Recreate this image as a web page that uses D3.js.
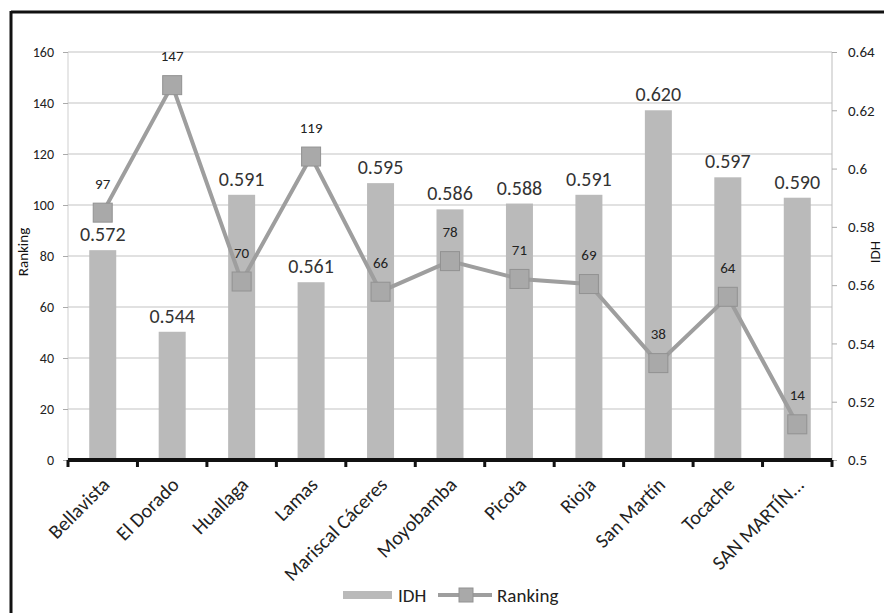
<!DOCTYPE html>
<html><head><meta charset="utf-8">
<script src="https://cdn.jsdelivr.net/npm/d3@7"></script>
<style>body{margin:0;background:#fff}svg{display:block}</style>
</head><body><svg id="c" width="884" height="613"></svg>
<script>
const categories = ["Bellavista","El Dorado","Huallaga","Lamas","Mariscal Cáceres","Moyobamba","Picota","Rioja","San Martín","Tocache","SAN MARTÍN..."];
const idh = [0.572,0.544,0.591,0.561,0.595,0.586,0.588,0.591,0.620,0.597,0.590];
const ranking = [97,147,70,119,66,78,71,69,38,64,14];
const leftTicks = [0,20,40,60,80,100,120,140,160];
const rightTicks = [0.5,0.52,0.54,0.56,0.58,0.6,0.62,0.64];
const rightTickLabels = ["0.5","0.52","0.54","0.56","0.58","0.6","0.62","0.64"];

const svg = d3.select("#c");
const font = "Carlito, Calibri, Lato, 'Open Sans', sans-serif";
const L = 68, R = 832, T = 52, B = 460;

const x = d3.scaleBand().domain(categories).range([L, R]);
const yL = d3.scaleLinear().domain([0,160]).range([B, T]);
const yR = d3.scaleLinear().domain([0.5,0.64]).range([B, T]);

// frame
svg.append("line").attr("x1",11).attr("x2",884).attr("y1",12).attr("y2",12).attr("stroke","#111").attr("stroke-width",3);
svg.append("line").attr("x1",11).attr("x2",11).attr("y1",11).attr("y2",613).attr("stroke","#111").attr("stroke-width",3);

// gridlines
svg.append("g").selectAll("line").data(leftTicks.slice(1)).join("line")
  .attr("x1",L).attr("x2",R).attr("y1",d=>yL(d)).attr("y2",d=>yL(d))
  .attr("stroke","#c4c4c4").attr("stroke-width",1.2);
svg.append("line").attr("x1",L).attr("x2",L).attr("y1",T).attr("y2",B).attr("stroke","#cfcfcf");
svg.append("line").attr("x1",R).attr("x2",R).attr("y1",T).attr("y2",B).attr("stroke","#bdbdbd");

// left axis
const gl = svg.append("g").attr("transform",`translate(${L},0)`)
  .call(d3.axisLeft(yL).tickValues(leftTicks).tickSize(5).tickFormat(d3.format("d")));
gl.select(".domain").remove();
gl.selectAll("line").attr("stroke","#aaa");
gl.selectAll("text").attr("font-family",font).attr("font-size",14).attr("fill","#222").attr("dx",-6);

// right axis
const gr = svg.append("g").attr("transform",`translate(${R},0)`)
  .call(d3.axisRight(yR).tickValues(rightTicks).tickSize(5).tickFormat((d,i)=>rightTickLabels[i]));
gr.select(".domain").remove();
gr.selectAll("line").attr("stroke","#aaa");
gr.selectAll("text").attr("font-family",font).attr("font-size",15).attr("fill","#222").attr("dx",8);

// axis titles
svg.append("text").attr("transform","translate(28,252) rotate(-90)").attr("text-anchor","middle")
  .attr("font-family",font).attr("font-size",15).attr("fill","#111").text("Ranking");
svg.append("text").attr("transform","translate(880,252) rotate(-90)").attr("text-anchor","middle")
  .attr("font-family",font).attr("font-size",15).attr("fill","#111").text("IDH");

// bars
const bw = 27;
svg.append("g").selectAll("rect").data(idh).join("rect")
  .attr("x",(d,i)=>x(categories[i])+x.bandwidth()/2-bw/2).attr("width",bw)
  .attr("y",d=>yR(d)).attr("height",d=>B-yR(d))
  .attr("fill","#bababa");

// bar labels
svg.append("g").selectAll("text").data(idh).join("text")
  .attr("x",(d,i)=>x(categories[i])+x.bandwidth()/2).attr("y",d=>yR(d)-9)
  .attr("text-anchor","middle").attr("font-family",font).attr("font-size",20).attr("fill","#333")
  .text(d=>d3.format(".3f")(d));

// line
const cx = i => x(categories[i])+x.bandwidth()/2;
svg.append("path").datum(ranking)
  .attr("d",d3.line().x((d,i)=>cx(i)).y(d=>yL(d)))
  .attr("fill","none").attr("stroke","#9e9e9e").attr("stroke-width",4);
svg.append("g").selectAll("rect").data(ranking).join("rect")
  .attr("x",(d,i)=>cx(i)-9.5).attr("y",d=>yL(d)-9.5).attr("width",19).attr("height",19)
  .attr("fill","#a9a9a9").attr("stroke","#929292").attr("stroke-width",1);
svg.append("g").selectAll("text").data(ranking).join("text")
  .attr("x",(d,i)=>cx(i)).attr("y",d=>yL(d)-24)
  .attr("text-anchor","middle").attr("font-family",font).attr("font-size",15).attr("fill","#222")
  .text(d=>d);

// x axis baseline
const gx = svg.append("g").attr("transform",`translate(0,${B})`);
gx.append("line").attr("x1",L).attr("x2",R).attr("stroke","#111").attr("stroke-width",4);
gx.selectAll(".tk").data(d3.range(categories.length+1)).join("line")
  .attr("x1",i=>L+i*x.bandwidth()).attr("x2",i=>L+i*x.bandwidth())
  .attr("y1",0).attr("y2",7).attr("stroke","#111").attr("stroke-width",3);
gx.selectAll(".lb").data(categories).join("text")
  .attr("transform",d=>`translate(${x(d)+x.bandwidth()/2+8},${26}) rotate(-45)`)
  .attr("text-anchor","end").attr("font-family",font).attr("font-size",20).attr("fill","#222")
  .text(d=>d);

// legend
const lg = svg.append("g");
lg.append("rect").attr("x",343).attr("y",591).attr("width",49).attr("height",8).attr("fill","#bababa");
lg.append("text").attr("x",398).attr("y",602).attr("font-family",font).attr("font-size",19).attr("fill","#222").text("IDH");
lg.append("line").attr("x1",438).attr("x2",492).attr("y1",595).attr("y2",595).attr("stroke","#9e9e9e").attr("stroke-width",4);
lg.append("rect").attr("x",459).attr("y",588).attr("width",14).attr("height",14).attr("fill","#a9a9a9").attr("stroke","#929292");
lg.append("text").attr("x",497).attr("y",602).attr("font-family",font).attr("font-size",19).attr("fill","#222").text("Ranking");
</script></body></html>
